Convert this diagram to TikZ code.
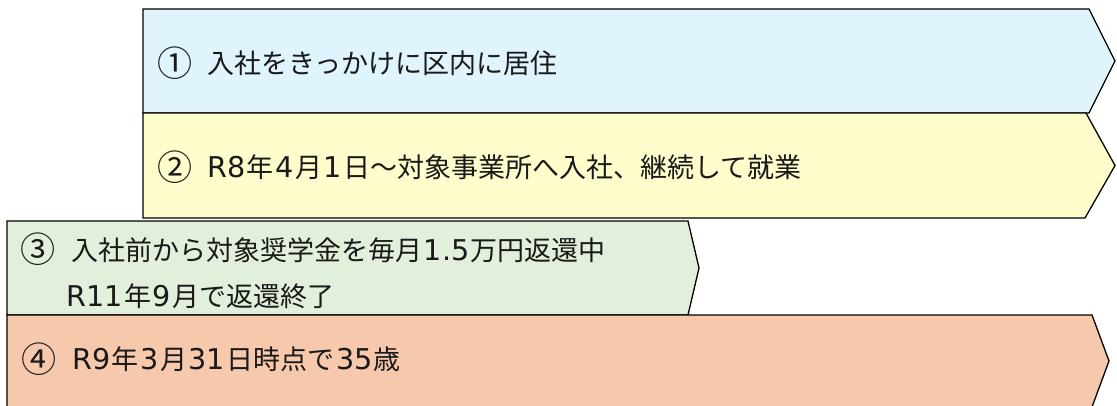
\documentclass[tikz,border=0pt]{standalone}
\usepackage{fontspec}
\setmainfont{Noto Sans CJK JP}
\newfontfamily\latfont[Scale=1.06]{DejaVu Sans}
\newcommand{\lat}[1]{\hspace{1.5pt}{\latfont #1}\hspace{1.5pt}}
\newcommand{\cnum}[1]{\raisebox{-0.09em}{\scalebox{1.3}{#1}}}
\definecolor{cblue}{HTML}{DFF4FC}
\definecolor{cyellow}{HTML}{FFFDCC}
\definecolor{cgreen}{HTML}{E2EFDA}
\definecolor{cpeach}{HTML}{F7C9AC}
\begin{document}
\begin{tikzpicture}[x=1pt,y=1pt,
  band/.style={draw=black,line width=1.3pt,line join=miter},
  lbl/.style={anchor=west,inner sep=0pt,font=\fontsize{27}{46}\selectfont,align=left,text=black!90}]
\useasboundingbox (0,0) rectangle (1117,405);
\clip (0,0) rectangle (1117,405);
% band 1
\path[band,fill=cblue] (143,396) -- (1089,396) -- (1115,344) -- (1089,292) -- (143,292) -- cycle;
% band 2
\path[band,fill=cyellow] (143,292) -- (1086,292) -- (1115,239.5) -- (1085,187) -- (143,187) -- cycle;
% band 3
\path[band,fill=cgreen] (7,184) -- (688,184) -- (699,137) -- (688,90) -- (7,90) -- cycle;
% band 4
\path[band,fill=cpeach] (7,90) -- (1092,90) -- (1109,44) -- (1092,-2) -- (7,-2) -- cycle;
% labels
\node[lbl] (t1) at (157,342) {\cnum{①}\hspace{15pt}入社をきっかけに区内に居住};
\node[lbl] (t2) at (157,238) {\cnum{②}\hspace{13.5pt}\lat{R8}年\lat{4}月\lat{1}日～対象事業所へ入社、継続して就業};
\node[lbl] (t3) at (20,134) {\cnum{③}\hspace{16pt}入社前から対象奨学金を毎月\lat{1.5}万円返還中\\\hspace{44.5pt}\lat{R11}年\lat{9}月で返還終了};
\node[lbl] (t4) at (21,46) {\cnum{④}\hspace{14.5pt}\lat{R9}年\lat{3}月\lat{31}日時点で\lat{35}歳};
\end{tikzpicture}
\end{document}
